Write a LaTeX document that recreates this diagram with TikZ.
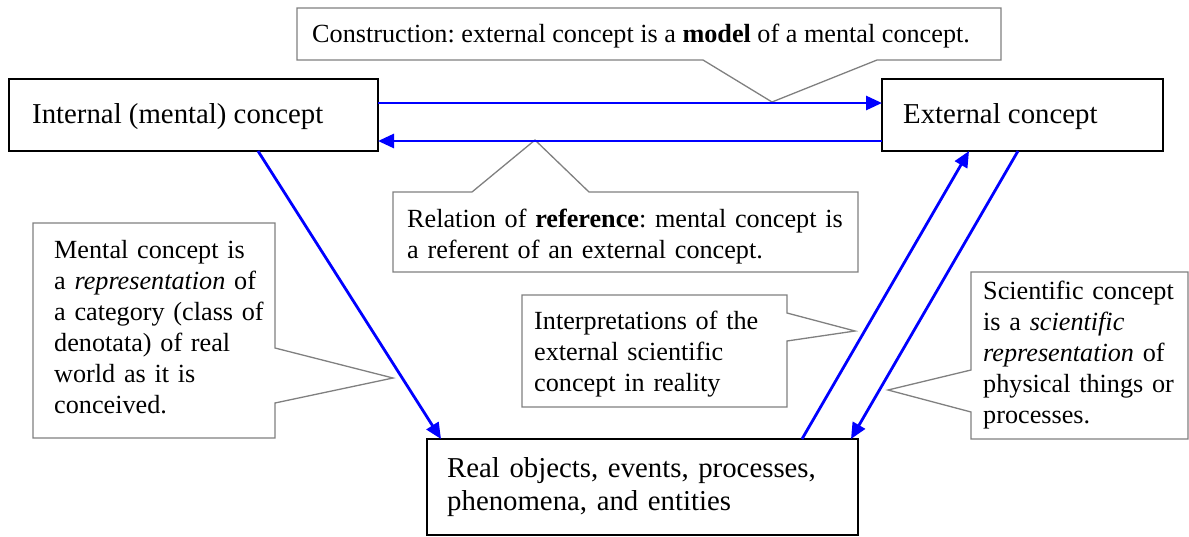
\documentclass[tikz,border=0pt]{standalone}
\usepackage{fontspec}
\setmainfont{Liberation Serif}
\usetikzlibrary{arrows.meta,calc}
\frenchspacing
\begin{document}
\begin{tikzpicture}[x=1pt,y=-1pt,
  mainbox/.style={draw=black, line width=2.5pt, fill=white, inner sep=0pt, outer sep=0pt, anchor=north west},
  bubble/.style={draw=black!50, line width=1.3pt, fill=white, line join=miter},
  bigtext/.style={font=\fontsize{28.8}{33}\selectfont, inner sep=0pt, anchor=base west, align=left},
  smalltext/.style={font=\fontsize{26.2}{31}\selectfont, inner sep=0pt, anchor=base west, align=left},
  conn/.style={draw=blue, line width=2.8pt, -{Triangle[length=16pt,width=14pt]}}
]
\useasboundingbox (0,0) rectangle (1189,536);

% callout shapes with their pointers
\draw[bubble] (297,8) -- (1001,8) -- (1001,60) -- (877,60) -- (772,102) -- (703,60) -- (297,60) -- cycle;
\node[smalltext] (constr) at (312,42) {Construction: external concept is a \textbf{model} of a mental concept.};

\draw[bubble] (393,192) -- (472,192) -- (535,140) -- (589,192) -- (858,192) -- (858,272) -- (393,272) -- cycle;
\node[smalltext, text width=520pt] (refer) at (407,227) {Relation of \textbf{reference}: mental concept is\\a referent of an external concept.};

\draw[bubble] (33,223) -- (275,223) -- (275,348) -- (393,378) -- (275,403) -- (275,438) -- (33,438) -- cycle;
\node[smalltext, text width=300pt] (mental) at (54,258) {Mental concept is\\a \textit{representation} of\\a category (class of\\denotata) of real\\world as it is\\conceived.};

\draw[bubble] (522,295) -- (787,295) -- (787,313) -- (855,331) -- (787,341) -- (787,407) -- (522,407) -- cycle;
\node[smalltext, text width=300pt] (interp) at (534,329) {Interpretations of the\\external scientific\\concept in reality};

\draw[bubble] (971,272) -- (1188,272) -- (1188,439) -- (971,439) -- (971,412) -- (888,390) -- (971,370) -- cycle;
\node[smalltext, text width=300pt] (scient) at (983,299) {Scientific concept\\is a \textit{scientific}\\\textit{representation} of\\physical things or\\processes.};

% main concept boxes
\node[mainbox, minimum width=369pt, minimum height=72pt] (int) at (9,79) {};
\node[mainbox, minimum width=281pt, minimum height=72pt] (ext) at (882,79) {};
\node[mainbox, minimum width=431pt, minimum height=96pt] (real) at (427,439) {};
\node[bigtext] (intlbl) at (32,123) {Internal (mental) concept};
\node[bigtext] (extlbl) at (903,123) {External concept};
\node[bigtext, text width=450pt] (reallbl) at (447,477) {Real objects, events, processes,\\phenomena, and entities};

% relations between the concepts
\draw[conn] ($(int.north east)+(0,24)$) -- ($(ext.north west)+(0,24)$);
\draw[conn] ($(ext.north west)+(0,62)$) -- ($(int.north east)+(0,62)$);
\draw[conn] ($(int.south west)+(249,0)$) -- ($(real.north west)+(14,0)$);
\draw[conn] ($(real.north west)+(375,0)$) -- ($(ext.south west)+(87,0)$);
\draw[conn] ($(ext.south west)+(136,0)$) -- ($(real.north west)+(424,0)$);
\end{tikzpicture}
\end{document}
